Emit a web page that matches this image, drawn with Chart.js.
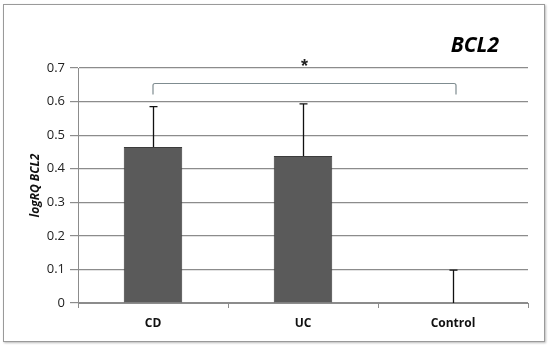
<!DOCTYPE html>
<html>
<head>
<meta charset="utf-8">
<script src="https://cdn.jsdelivr.net/npm/chart.js@4/dist/chart.umd.min.js"></script>
<style>
  html, body { margin: 0; padding: 0; background: #fff; }
  #wrap { position: relative; width: 550px; height: 348px; }
  #frame { position: absolute; left: 3px; top: 4px; width: 540px; height: 336px;
           border: 1px solid #9a9a9a; box-shadow: 1px 1px 2px #bbb; pointer-events: none; }
</style>
</head>
<body>
<div id="wrap">
<canvas id="myChart" width="550" height="348"></canvas>
<div id="frame"></div>
</div>
<script>
const labels = ['CD', 'UC', 'Control'];
const means = [0.465, 0.438, 0];
const upperErr = [0.585, 0.593, 0.098];
const yTicks = [0, 0.1, 0.2, 0.3, 0.4, 0.5, 0.6, 0.7];
const chartTitle = 'BCL2';
const yTitle = 'logRQ BCL2';
const sigFrom = 0, sigTo = 2, sigLevel = 0.655, sigMark = '*';

const extras = {
    id: 'extras',
    afterDatasetsDraw(chart)
    {
        const ctx = chart.ctx;
        const x = chart.scales.x, y = chart.scales.y;
        ctx.save();
        // error bars (upper only)
        ctx.strokeStyle = '#111';
        ctx.lineWidth = 1.3;
        for (let i = 0; i < labels.length; i++)
        {
            const px = Math.round(x.getPixelForValue(i)) + 0.5;
            const y0 = y.getPixelForValue(means[i]);
            const y1 = y.getPixelForValue(upperErr[i]);
            ctx.beginPath();
            ctx.moveTo(px, y0);
            ctx.lineTo(px, y1);
            ctx.moveTo(px - 4, y1);
            ctx.lineTo(px + 4, y1);
            ctx.stroke();
        }
        // significance bracket
        const bx0 = x.getPixelForValue(sigFrom), bx1 = x.getPixelForValue(sigTo) + 3;
        const by = Math.round(y.getPixelForValue(sigLevel)) + 0.5;
        ctx.strokeStyle = '#7f8c90';
        ctx.lineWidth = 1.2;
        ctx.beginPath();
        ctx.moveTo(bx0, by + 11);
        ctx.lineTo(bx0, by + 2);
        ctx.quadraticCurveTo(bx0, by, bx0 + 2, by);
        ctx.lineTo(bx1 - 2, by);
        ctx.quadraticCurveTo(bx1, by, bx1, by + 2);
        ctx.lineTo(bx1, by + 11);
        ctx.stroke();
        ctx.fillStyle = '#222';
        ctx.font = 'bold 18px "Liberation Sans", Arial';
        ctx.textAlign = 'center';
        ctx.textBaseline = 'middle';
        ctx.fillText(sigMark, (bx0 + bx1) / 2, by - 16);
        // title
        ctx.fillStyle = '#000';
        ctx.font = 'italic bold 21px "Open Sans", "Liberation Sans", Arial';
        ctx.textAlign = 'right';
        ctx.fillText(chartTitle, 499, 46);
        ctx.restore();
    }
};

var ctx = document.getElementById('myChart');
var myChart = new Chart(ctx, {
    type: 'bar',
    data: {
        labels: labels,
        datasets: [{
            data: means,
            backgroundColor: '#5a5a5a',
            borderColor: '#3c3c3c',
            borderWidth: 1,
            categoryPercentage: 1,
            barPercentage: 0.39
        }]
    },
    options: {
        responsive: false,
        animation: false,
        layout: { padding: { left: 26, right: 22, top: 68, bottom: 0 } },
        plugins: {
            legend: { display: false },
            tooltip: { enabled: false },
            title: { display: false }
        },
        scales: {
            x: {
                offset: true,
                grid: { display: true, drawOnChartArea: false, offset: true, tickLength: 5, color: '#8c8c8c' },
                border: { color: '#8c8c8c' },
                ticks: { color: '#111', font: { family: '"Open Sans", "Liberation Sans", Arial', size: 12, weight: 'bold' }, padding: 8 },
                afterFit(s) { s.height = 45; }
            },
            y: {
                min: 0,
                max: 0.7,
                afterBuildTicks(s) { s.ticks = yTicks.map(v => ({ value: v })); },
                grid: { color: '#8c8c8c', tickLength: 8, lineWidth: 1.2 },
                border: { color: '#8c8c8c' },
                title: {
                    display: true, text: yTitle, color: '#111', padding: 2,
                    font: { family: '"Open Sans", "Liberation Sans", Arial', size: 12, weight: 'bold', style: 'italic' }
                },
                ticks: {
                    color: '#222', padding: 5,
                    font: { family: '"Open Sans", "Liberation Sans", Arial', size: 13 },
                    callback: v => v === 0 ? '0' : v.toFixed(1)
                },
                afterFit(s) { s.width = 52; }
            }
        }
    },
    plugins: [extras]
});
</script>
</body>
</html>
